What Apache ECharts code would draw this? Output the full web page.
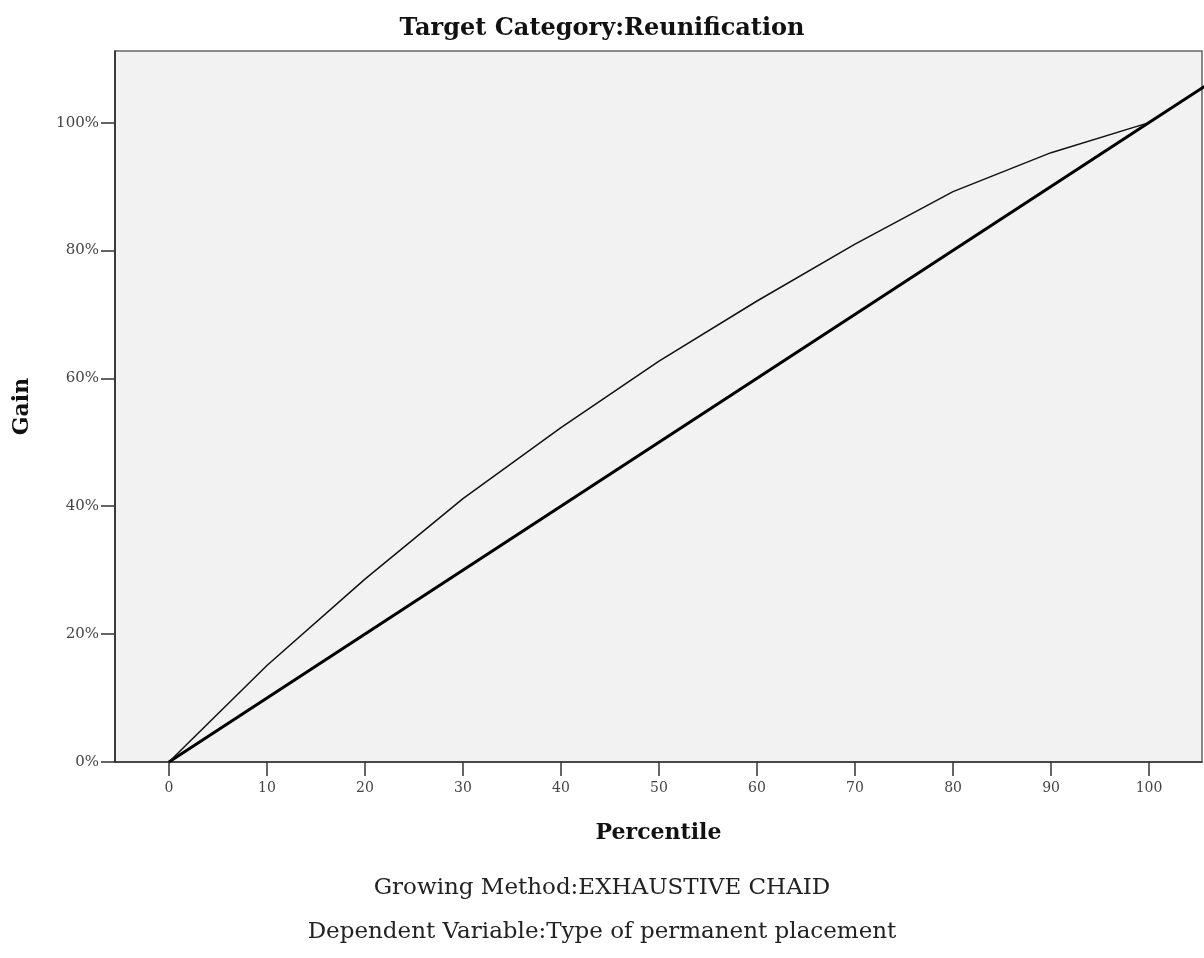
<!DOCTYPE html>
<html>
<head>
<meta charset="utf-8">
<script src="https://cdn.jsdelivr.net/npm/echarts@6/dist/echarts.min.js"></script>
<style>html,body{margin:0;padding:0;background:#fff;}#c{width:1204px;height:958px;}</style>
</head>
<body>
<div id="c"></div>
<script>
const percentiles = [0, 10, 20, 30, 40, 50, 60, 70, 80, 90, 100];
const gainValues = [0, 15.1, 28.6, 41.2, 52.3, 62.7, 72.1, 81.0, 89.2, 95.3, 100];
const baselineX = [0, 100, 110];
const xTicks = [0, 10, 20, 30, 40, 50, 60, 70, 80, 90, 100];
const yTicks = [0, 20, 40, 60, 80, 100];

const serif = "'DejaVu Serif', 'Liberation Serif', serif";
const chart = echarts.init(document.getElementById('c'));
chart.setOption({
  animation: false,
  title: [
    { text: 'Target Category:Reunification', left: 'center', top: 12,
      textStyle: { fontFamily: serif, fontSize: 24, fontWeight: 'bold', color: '#111' } },
    { text: 'Growing Method:EXHAUSTIVE CHAID', left: 'center', top: 872,
      textStyle: { fontFamily: serif, fontSize: 23, fontWeight: 'normal', color: '#222' } },
    { text: 'Dependent Variable:Type of permanent placement', left: 'center', top: 916,
      textStyle: { fontFamily: serif, fontSize: 23, fontWeight: 'normal', color: '#222' } }
  ],
  grid: { left: 115, right: 2, top: 51, bottom: 196, show: true,
    backgroundColor: '#f2f2f2', borderColor: '#666', borderWidth: 1.5 },
  xAxis: {
    type: 'value', min: -5.5, max: 105.4,
    name: 'Percentile', nameLocation: 'middle', nameGap: 60,
    nameTextStyle: { fontFamily: serif, fontSize: 22, fontWeight: 'bold', color: '#111' },
    axisLine: { show: true, onZero: false, lineStyle: { color: '#333', width: 1.5 } },
    axisTick: { show: true, length: 14, customValues: xTicks, lineStyle: { color: '#333', width: 1.5 } },
    axisLabel: { customValues: xTicks, margin: 19, fontFamily: serif, fontSize: 14, color: '#444' },
    splitLine: { show: false }
  },
  yAxis: {
    type: 'value', min: 0, max: 111.2,
    name: 'Gain', nameLocation: 'middle', nameGap: 82, nameRotate: 90,
    nameTextStyle: { fontFamily: serif, fontSize: 22, fontWeight: 'bold', color: '#111' },
    axisLine: { show: true, onZero: false, lineStyle: { color: '#222', width: 1.5 } },
    axisTick: { show: true, length: 14, customValues: yTicks, lineStyle: { color: '#333', width: 1.5 } },
    axisLabel: { customValues: yTicks, margin: 16, fontFamily: serif, fontSize: 15, color: '#444',
      formatter: '{value}%' },
    splitLine: { show: false }
  },
  series: [
    { type: 'line', data: baselineX.map(v => [v, v]), symbol: 'none', clip: true,
      lineStyle: { color: '#000', width: 3 }, z: 3 },
    { type: 'line', data: percentiles.map((p, i) => [p, gainValues[i]]), symbol: 'none', clip: true,
      lineStyle: { color: '#111', width: 1.5 }, z: 4 }
  ]
});
</script>
</body>
</html>
